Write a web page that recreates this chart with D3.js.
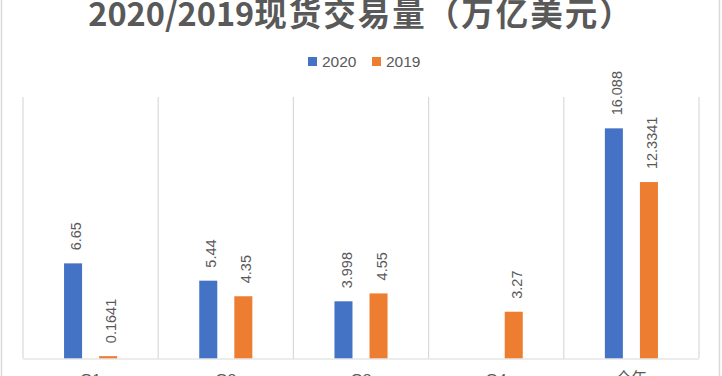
<!DOCTYPE html>
<html><head><meta charset="utf-8">
<script src="https://cdn.jsdelivr.net/npm/d3@7"></script>
<style>html,body{margin:0;padding:0;background:#fff;overflow:hidden}</style>
</head><body>
<svg id="c" width="722" height="376"></svg>
<script>
const categories = ["Q1", "Q2", "Q3", "Q4", "全年"];
const seriesNames = ["2020", "2019"];
const values2020 = [6.65, 5.44, 3.998, null, 16.088];
const values2019 = [0.1641, 4.35, 4.55, 3.27, 12.3341];
const labels2020 = ["6.65", "5.44", "3.998", "", "16.088"];
const labels2019 = ["0.1641", "4.35", "4.55", "3.27", "12.3341"];
const colors = ["#4472C4", "#ED7D31"];
const titleDigits = "2020/2019";
const titleCJK = "现货交易量（万亿美元）";

const svg = d3.select("#c");
const plot = {left: 23, right: 699, top: 97, bottom: 358.5};

svg.append("rect").attr("x", 1.5).attr("y", -10).attr("width", 718).attr("height", 400)
  .attr("fill", "#fff").attr("stroke", "#d9d9d9").attr("stroke-width", 1.5);

const x0 = d3.scaleBand().domain(categories).range([plot.left, plot.right]).padding(0);
const x1 = d3.scaleBand().domain(seriesNames).range([0, x0.bandwidth()])
  .paddingInner(0.486).paddingOuter(1.171);
const y = d3.scaleLinear().domain([0, 18]).range([plot.bottom, 101]);

// category gridlines
const bounds = categories.map(c => x0(c)).concat([x0(categories[categories.length-1]) + x0.bandwidth()]);
svg.append("g").selectAll("line").data(bounds).join("line")
  .attr("x1", d => d).attr("x2", d => d).attr("y1", plot.top).attr("y2", plot.bottom)
  .attr("stroke", "#d9d9d9").attr("stroke-width", 1.2);

// bars
const series = [values2020, values2019];
const seriesLabels = [labels2020, labels2019];
series.forEach((vals, si) => {
  const data = categories.map((c, i) => ({c, v: vals[i], l: seriesLabels[si][i]})).filter(d => d.v != null);
  const g = svg.append("g");
  g.selectAll("rect").data(data).join("rect")
    .attr("x", d => x0(d.c) + x1(seriesNames[si]))
    .attr("width", x1.bandwidth())
    .attr("y", d => y(d.v))
    .attr("height", d => plot.bottom - y(d.v))
    .attr("fill", colors[si]);
  g.selectAll("text").data(data).join("text")
    .attr("transform", d => `translate(${x0(d.c) + x1(seriesNames[si]) + x1.bandwidth()/2 + 3},${y(d.v) - 13}) rotate(-90)`)
    .attr("dy", "0.35em")
    .attr("font-family", "Liberation Sans, Arial, sans-serif")
    .attr("font-size", 14.5)
    .attr("fill", "#595959")
    .text(d => d.l);
});

// baseline axis
svg.append("line").attr("x1", plot.left).attr("x2", plot.right)
  .attr("y1", plot.bottom + 0.5).attr("y2", plot.bottom + 0.5)
  .attr("stroke", "#d9d9d9").attr("stroke-width", 1.2);

// category labels
const xAxis = d3.axisBottom(x0).tickSize(0).tickPadding(0);
const ax = svg.append("g").attr("transform", `translate(0,${plot.bottom})`).call(xAxis);
ax.select(".domain").remove();
ax.selectAll("text").attr("y", 25).attr("dy", 0)
  .attr("font-family", "Liberation Sans, 'Noto Sans CJK SC', sans-serif")
  .attr("font-size", 15.5).attr("fill", "#595959");

// title
const t = svg.append("text").attr("x", 361).attr("y", 26).attr("text-anchor", "middle")
  .attr("font-family", "'Noto Sans CJK SC', sans-serif").attr("font-weight", "bold")
  .attr("fill", "#595959");
t.append("tspan").attr("font-size", 32.5).text(titleDigits);
t.append("tspan").attr("font-size", 32.5).attr("letter-spacing", 2).text(titleCJK);

// legend
const lg = svg.append("g");
const legendX = [308, 372];
seriesNames.forEach((s, i) => {
  lg.append("rect").attr("x", legendX[i]).attr("y", 57).attr("width", 9).attr("height", 9).attr("fill", colors[i]);
  lg.append("text").attr("x", legendX[i] + 14).attr("y", 67)
    .attr("font-family", "Liberation Sans, Arial, sans-serif").attr("font-size", 15.5)
    .attr("fill", "#595959").text(s);
});
</script>
</body></html>
